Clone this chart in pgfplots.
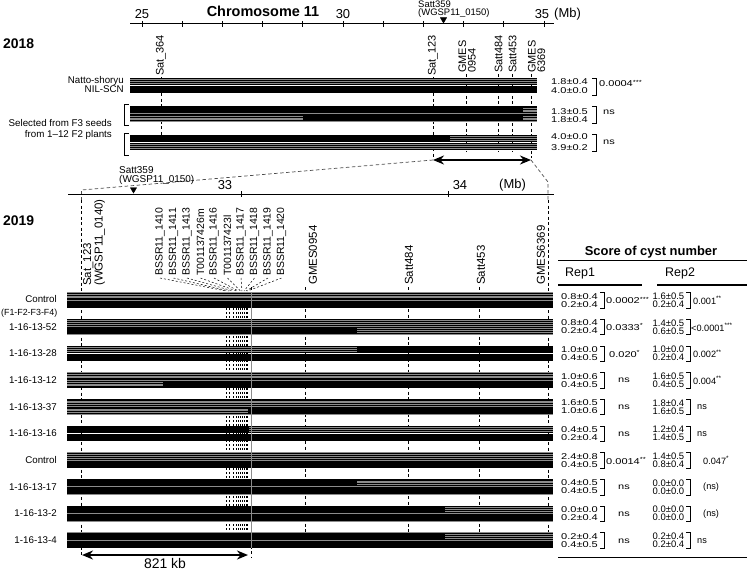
\documentclass[border=0pt]{standalone}
\usepackage{pgfplots}
\pgfplotsset{compat=1.18}
\usetikzlibrary{arrows.meta}
\usepackage{fontspec}
\setmainfont{Liberation Sans}
\newfontfamily\sw[FakeStretch=1.3]{Liberation Sans}
\newcommand{\fs}[1]{\fontsize{#1}{#1}\selectfont}
\definecolor{sg}{RGB}{140,140,140}
\pgfplotsset{
 bar/.style={draw=black, line width=7bp, line cap=butt, forget plot, mark=none},
 ol/.style={draw=sg, line width=7.8bp, line cap=butt, forget plot, mark=none},
 st/.style={draw=sg, line width=0.85bp, line cap=butt, forget plot, mark=none},
 mk/.style={draw=black, line width=0.6bp, dash pattern=on 3bp off 2.5bp, forget plot, mark=none},
 cl/.style={draw=black, line width=0.5bp, dash pattern=on 2bp off 2bp, forget plot, mark=none},
 zl/.style={draw=black!70, line width=0.7bp, dash pattern=on 3.5bp off 2.5bp, forget plot, mark=none},
 ln/.style={draw=black, line width=1bp, forget plot, mark=none},
 rl/.style={draw=black, line width=1.3bp, forget plot, mark=none},
 br/.style={draw=black, line width=0.8bp, forget plot, mark=none},
 dar/.style={draw=black, line width=2.6bp, forget plot, mark=none, {Stealth[length=11bp,width=9bp]}-{Stealth[length=11bp,width=9bp]}},
}
\newcommand{\blk}[3]{\addplot[bar] coordinates {(#1,#3) (#2,#3)};}
\newcommand{\stp}[3]{\addplot[bar] coordinates {(#1,#3) (#2,#3)};
 \addplot[st,yshift=1.8bp] coordinates {(#1,#3) (#2,#3)};
 \addplot[st] coordinates {(#1,#3) (#2,#3)};
 \addplot[st,yshift=-1.8bp] coordinates {(#1,#3) (#2,#3)};}
\newcommand{\olb}[3]{\addplot[ol] coordinates {(#1,#3) (#2,#3)};}
\newcommand{\vl}[4][mk]{\addplot[#1] coordinates {(#2,#3) (#2,#4)};}
% value pair rows: y0, v1a, v1b, p1x, p1, v2a, v2b, p2x, p2
\newcommand{\vrow}[9]{%
 \node[font=\sw\fs{8.5}, anchor=west, inner sep=0] at (axis cs:561,#1+3.6) {#2};
 \node[font=\sw\fs{8.5}, anchor=west, inner sep=0] at (axis cs:561,#1+11.6) {#3};
 \addplot[br] coordinates {(600,#1) (604,#1) (604,#1+15.5) (600,#1+15.5)};
 \node[font=\sw\fs{8.5}, anchor=west, inner sep=0] at (axis cs:#4,#1+8) {#5};
 \node[font=\fs{9.5}, anchor=west, inner sep=0] at (axis cs:652.5,#1+3.6) {#6};
 \node[font=\fs{9.5}, anchor=west, inner sep=0] at (axis cs:652.5,#1+11.6) {#7};
 \addplot[br] coordinates {(686,#1) (690,#1) (690,#1+15.5) (686,#1+15.5)};
 \node[font=\fs{9.2}, anchor=west, inner sep=0] at (axis cs:#8,#1+8) {#9};
}
\newcommand{\st}[1]{\textsuperscript{#1}}
\begin{document}
\begin{tikzpicture}
\begin{axis}[width=750bp,height=571bp,scale only axis,xmin=0,xmax=750,ymin=0,ymax=571,
 y dir=reverse,hide axis,clip=false]
% ===== 2018 =====
\addplot[ln] coordinates {(130,24) (554,24)};
\addplot[ln] coordinates {(142,21) (142,27)};
\addplot[ln] coordinates {(182.2,21) (182.2,27)};
\addplot[ln] coordinates {(222.4,21) (222.4,27)};
\addplot[ln] coordinates {(262.6,21) (262.6,27)};
\addplot[ln] coordinates {(302.8,21) (302.8,27)};
\addplot[ln] coordinates {(343,21) (343,27)};
\addplot[ln] coordinates {(383.2,21) (383.2,27)};
\addplot[ln] coordinates {(423.4,21) (423.4,27)};
\addplot[ln] coordinates {(463.6,21) (463.6,27)};
\addplot[ln] coordinates {(503.8,21) (503.8,27)};
\addplot[ln] coordinates {(544,21) (544,27)};
\node[font=\fs{13}] at (axis cs:142,14) {25};
\node[font=\fs{13}] at (axis cs:343,14) {30};
\node[font=\fs{13}] at (axis cs:542,14) {35};
\node[font=\fs{13}, anchor=west, inner sep=0] at (axis cs:554,14) {(Mb)};
\node[font=\fs{14.5}\bfseries] at (axis cs:263,11) {Chromosome 11};
\node[font=\fs{14}\bfseries, anchor=west, inner sep=0] at (axis cs:3,44) {2018};
\addplot[only marks, mark=triangle*, mark size=3.6bp, mark options={rotate=180, fill=black}, forget plot] coordinates {(443.5,19.5)};
\node[font=\fs{9.5}, anchor=west, inner sep=0] at (axis cs:418,4.5) {Satt359};
\node[font=\fs{9.5}, anchor=west, inner sep=0] at (axis cs:418,13.5) {(WGSP11\_0150)};
% marker lines 2018
\vl{161}{77}{137}
\vl{433}{77}{158}
\vl{466}{74}{152}
\vl{498}{74}{152}
\vl{512}{74}{152}
\vl{531}{74}{158}
\node[font=\fs{11}, rotate=90, anchor=west, inner sep=0] at (axis cs:161,76) {Sat\_364};
\node[font=\fs{11}, rotate=90, anchor=west, inner sep=0] at (axis cs:433,76) {Sat\_123};
\node[font=\fs{11}, rotate=90, anchor=west, inner sep=0, align=left] at (axis cs:467,73) {GMES\\[-1.5pt]0954};
\node[font=\fs{11}, rotate=90, anchor=west, inner sep=0] at (axis cs:498.5,73) {Satt484};
\node[font=\fs{11}, rotate=90, anchor=west, inner sep=0] at (axis cs:512.5,73) {Satt453};
\node[font=\fs{11}, rotate=90, anchor=west, inner sep=0, align=left] at (axis cs:536.5,73) {GMES\\[-1.5pt]6369};
% bars 2018
\olb{130}{537}{81.5} \olb{130}{537}{89.5}
\olb{130}{537}{110} \olb{130}{537}{118}
\olb{130}{537}{138.5} \olb{130}{537}{146.5}
\stp{130}{537}{81.5}
\blk{130}{537}{89.5}
\blk{130}{523}{110} \stp{523}{537}{110}
\stp{130}{303}{118} \blk{303}{523}{118} \stp{523}{537}{118}
\blk{130}{450}{138.5} \stp{450}{537}{138.5}
\stp{130}{537}{146.5}
\node[font=\fs{9.8}, anchor=east, inner sep=0] at (axis cs:124,80.5) {Natto-shoryu};
\node[font=\fs{9.8}, anchor=east, inner sep=0] at (axis cs:124,89.5) {NIL-SCN};
\addplot[br] coordinates {(128.5,104) (124.5,104) (124.5,125) (128.5,125)};
\addplot[br] coordinates {(128.5,133) (124.5,133) (124.5,155) (128.5,155)};
\node[font=\fs{9.8}, anchor=east, inner sep=0] at (axis cs:112,123) {Selected from F3 seeds};
\node[font=\fs{9.8}, anchor=east, inner sep=0] at (axis cs:112,134.5) {from 1--12 F2 plants};
% values 2018
\node[font=\sw\fs{8.5}, anchor=west, inner sep=0] at (axis cs:551,82) {1.8±0.4};
\node[font=\sw\fs{8.5}, anchor=west, inner sep=0] at (axis cs:551,91) {4.0±0.0};
\node[font=\sw\fs{8.5}, anchor=west, inner sep=0] at (axis cs:551,111.5) {1.3±0.5};
\node[font=\sw\fs{8.5}, anchor=west, inner sep=0] at (axis cs:551,119.5) {1.8±0.4};
\node[font=\sw\fs{8.5}, anchor=west, inner sep=0] at (axis cs:551,137) {4.0±0.0};
\node[font=\sw\fs{8.5}, anchor=west, inner sep=0] at (axis cs:551,147.5) {3.9±0.2};
\addplot[br] coordinates {(592,78) (596,78) (596,95) (592,95)};
\addplot[br] coordinates {(592,106) (596,106) (596,123) (592,123)};
\addplot[br] coordinates {(592,134) (596,134) (596,151.5) (592,151.5)};
\node[font=\sw\fs{8.5}, anchor=west, inner sep=0] at (axis cs:599,83.5) {0.0004\st{***}};
\node[font=\sw\fs{8.5}, anchor=west, inner sep=0] at (axis cs:603,112.5) {ns};
\node[font=\sw\fs{8.5}, anchor=west, inner sep=0] at (axis cs:603,142) {ns};
\addplot[dar] coordinates {(433,160) (531,160)};
% zoom lines
\addplot[zl] coordinates {(433,160) (81.5,190) (81.5,200)};
\addplot[zl] coordinates {(531,160) (548,182) (548,200)};
% ===== 2019 =====
\addplot[ln] coordinates {(68,194) (554,194)};
\addplot[ln] coordinates {(241,191) (241,197)};
\addplot[ln] coordinates {(448,191) (448,197)};
\node[font=\fs{13}] at (axis cs:225,185) {33};
\node[font=\fs{13}] at (axis cs:460,185) {34};
\node[font=\fs{13}, anchor=west, inner sep=0] at (axis cs:499,185) {(Mb)};
\addplot[only marks, mark=triangle*, mark size=3.6bp, mark options={rotate=180, fill=black}, forget plot] coordinates {(133.5,189.5)};
\node[font=\fs{10}, anchor=west, inner sep=0] at (axis cs:119,170) {Satt359};
\node[font=\fs{10}, anchor=west, inner sep=0] at (axis cs:119,179.5) {(WGSP11\_0150)};
\node[font=\fs{14}\bfseries, anchor=west, inner sep=0] at (axis cs:3,221) {2019};
% marker lines 2019
\vl{81.5}{200}{557}
\vl{305}{287}{540}
\vl{408}{287}{540}
\vl{479}{287}{540}
\vl{548}{200}{540}
\vl[cl]{226}{292}{533}
\vl[cl]{229}{292}{533}
\vl[cl]{233}{292}{533}
\vl[cl]{236.5}{292}{533}
\vl[cl]{238.5}{292}{533}
\vl[cl]{240.5}{292}{533}
\vl[cl]{242}{292}{533}
\vl[cl]{244}{292}{533}
\vl[cl]{246}{292}{533}
\vl[cl]{247.5}{292}{533}
\vl[mk]{251}{287}{557}
\node[font=\fs{11.5}, rotate=90, anchor=west, inner sep=0, align=left] at (axis cs:94,286) {Sat\_123\\(WGSP11\_0140)};
\node[font=\fs{11.5}, rotate=90, anchor=west, inner sep=0] at (axis cs:313,285) {GMES0954};
\node[font=\fs{11.5}, rotate=90, anchor=west, inner sep=0] at (axis cs:409,285) {Satt484};
\node[font=\fs{11.5}, rotate=90, anchor=west, inner sep=0] at (axis cs:481,285) {Satt453};
\node[font=\fs{11.5}, rotate=90, anchor=west, inner sep=0] at (axis cs:541,285) {GMES6369};
% BSSR labels and leaders
\node[font=\fs{10.5}, rotate=90, anchor=west, inner sep=0] at (axis cs:160,276) {BSSR11\_1410};
\node[font=\fs{10.5}, rotate=90, anchor=west, inner sep=0] at (axis cs:173.5,276) {BSSR11\_1411};
\node[font=\fs{10.5}, rotate=90, anchor=west, inner sep=0] at (axis cs:187,276) {BSSR11\_1413};
\node[font=\fs{10.5}, rotate=90, anchor=west, inner sep=0] at (axis cs:200.5,276) {T001137426m};
\node[font=\fs{10.5}, rotate=90, anchor=west, inner sep=0] at (axis cs:214,276) {BSSR11\_1416};
\node[font=\fs{10.5}, rotate=90, anchor=west, inner sep=0] at (axis cs:227.5,276) {T001137423l};
\node[font=\fs{10.5}, rotate=90, anchor=west, inner sep=0] at (axis cs:241,276) {BSSR11\_1417};
\node[font=\fs{10.5}, rotate=90, anchor=west, inner sep=0] at (axis cs:254.5,276) {BSSR11\_1418};
\node[font=\fs{10.5}, rotate=90, anchor=west, inner sep=0] at (axis cs:268,276) {BSSR11\_1419};
\node[font=\fs{10.5}, rotate=90, anchor=west, inner sep=0] at (axis cs:281.5,276) {BSSR11\_1420};
\addplot[cl] coordinates {(160,278) (226,291)};
\addplot[cl] coordinates {(173.5,278) (229,291)};
\addplot[cl] coordinates {(187,278) (233,291)};
\addplot[cl] coordinates {(200.5,278) (236.5,291)};
\addplot[cl] coordinates {(214,278) (238.5,291)};
\addplot[cl] coordinates {(227.5,278) (240.5,291)};
\addplot[cl] coordinates {(241,278) (242,291)};
\addplot[cl] coordinates {(254.5,278) (244,291)};
\addplot[cl] coordinates {(268,278) (246,291)};
\addplot[cl] coordinates {(281.5,278) (247.5,291)};
% bars 2019 : row y0 = 292.5 + 26.7 i ; top center y0+3.5, bottom y0+11.5
\olb{67}{553}{296.0} \olb{67}{553}{304.0}
\olb{67}{553}{322.7} \olb{67}{553}{330.7}
\olb{67}{553}{349.4} \olb{67}{553}{357.4}
\olb{67}{553}{376.1} \olb{67}{553}{384.1}
\olb{67}{553}{402.8} \olb{67}{553}{410.8}
\olb{67}{553}{429.5} \olb{67}{553}{437.5}
\olb{67}{553}{456.2} \olb{67}{553}{464.2}
\olb{67}{553}{482.9} \olb{67}{553}{490.9}
\olb{67}{553}{509.6} \olb{67}{553}{517.6}
\olb{67}{553}{536.3} \olb{67}{553}{544.3}
% Control
\stp{67}{553}{296.0} \blk{67}{553}{304.0}
% 1-16-13-52
\stp{67}{553}{322.7} \blk{67}{357}{330.7} \stp{357}{553}{330.7}
% 1-16-13-28
\stp{67}{357}{349.4} \blk{357}{553}{349.4} \blk{67}{553}{357.4}
% 1-16-13-12
\stp{67}{553}{376.1} \stp{67}{163}{384.1} \blk{163}{553}{384.1}
% 1-16-13-37
\stp{67}{553}{402.8} \stp{67}{248}{410.8} \blk{248}{553}{410.8}
% 1-16-13-16
\blk{67}{249}{429.5} \stp{249}{553}{429.5} \blk{67}{553}{437.5}
% Control
\stp{67}{553}{456.2} \blk{67}{553}{464.2}
% 1-16-13-17
\blk{67}{357}{482.9} \stp{357}{553}{482.9} \blk{67}{553}{490.9}
% 1-16-13-2
\blk{67}{445}{509.6} \stp{445}{553}{509.6} \blk{67}{553}{517.6}
% 1-16-13-4
\blk{67}{445}{536.3} \stp{445}{553}{536.3} \blk{67}{553}{544.3}
\addplot[draw=sg, line width=0.6bp, forget plot] coordinates {(251,292) (251,548)};
% row labels
\node[font=\fs{9.8}, anchor=east, inner sep=0] at (axis cs:57,299.5) {Control};
\node[font=\fs{8.9}, anchor=east, inner sep=0] at (axis cs:57.5,313) {(F1-F2-F3-F4)};
\node[font=\fs{9.8}, anchor=east, inner sep=0] at (axis cs:57,326.7) {1-16-13-52};
\node[font=\fs{9.8}, anchor=east, inner sep=0] at (axis cs:57,353.4) {1-16-13-28};
\node[font=\fs{9.8}, anchor=east, inner sep=0] at (axis cs:57,380.1) {1-16-13-12};
\node[font=\fs{9.8}, anchor=east, inner sep=0] at (axis cs:57,406.8) {1-16-13-37};
\node[font=\fs{9.8}, anchor=east, inner sep=0] at (axis cs:57,433.5) {1-16-13-16};
\node[font=\fs{9.8}, anchor=east, inner sep=0] at (axis cs:57,460.2) {Control};
\node[font=\fs{9.8}, anchor=east, inner sep=0] at (axis cs:57,486.9) {1-16-13-17};
\node[font=\fs{9.8}, anchor=east, inner sep=0] at (axis cs:57,513.6) {1-16-13-2};
\node[font=\fs{9.8}, anchor=east, inner sep=0] at (axis cs:57,540.3) {1-16-13-4};
% 821 kb arrow
\addplot[dar] coordinates {(82,555) (248,555)};
\node[font=\fs{14}, anchor=south, inner sep=0] at (axis cs:165,569) {821 kb};
% table
\node[font=\fs{13}\bfseries] at (axis cs:651,252) {Score of cyst number};
\addplot[rl] coordinates {(558,260.5) (747,260.5)};
\node[font=\fs{12.5}, anchor=west, inner sep=0] at (axis cs:565,273.5) {Rep1};
\node[font=\fs{12.5}, anchor=west, inner sep=0] at (axis cs:665,273.5) {Rep2};
\addplot[rl] coordinates {(558,285) (642,285)};
\addplot[rl] coordinates {(657,285) (747,285)};
\addplot[rl] coordinates {(558,557.5) (747,557.5)};
\vrow{292.5}{0.8±0.4}{0.2±0.4}{606}{0.0002\st{***}}{1.6±0.5}{0.2±0.4}{693}{0.001\st{**}}
\vrow{319.2}{0.8±0.4}{0.2±0.4}{606}{0.0333\st{*}}{1.4±0.5}{0.6±0.5}{691}{<0.0001\st{***}}
\vrow{345.9}{1.0±0.0}{0.4±0.5}{609}{0.020\st{*}}{1.0±0.0}{0.2±0.4}{693}{0.002\st{**}}
\vrow{372.6}{1.0±0.6}{0.4±0.5}{618}{ns}{1.6±0.5}{0.4±0.5}{693}{0.004\st{**}}
\vrow{399.3}{1.6±0.5}{1.0±0.6}{618}{ns}{1.8±0.4}{1.6±0.5}{697}{ns}
\vrow{426.0}{0.4±0.5}{0.2±0.4}{618}{ns}{1.2±0.4}{1.4±0.5}{697}{ns}
\vrow{452.7}{2.4±0.8}{0.4±0.5}{606}{0.0014\st{**}}{1.4±0.5}{0.8±0.4}{703}{0.047\st{*}}
\vrow{479.4}{0.4±0.5}{0.4±0.5}{618}{ns}{0.0±0.0}{0.0±0.0}{703}{(ns)}
\vrow{506.1}{0.0±0.0}{0.2±0.4}{618}{ns}{0.0±0.0}{0.0±0.0}{703}{(ns)}
\vrow{532.8}{0.2±0.4}{0.4±0.5}{618}{ns}{0.2±0.4}{0.2±0.4}{697}{ns}
\end{axis}
\pgfresetboundingbox
\path[use as bounding box] (0,0) rectangle (750bp,571bp);
\end{tikzpicture}
\end{document}
